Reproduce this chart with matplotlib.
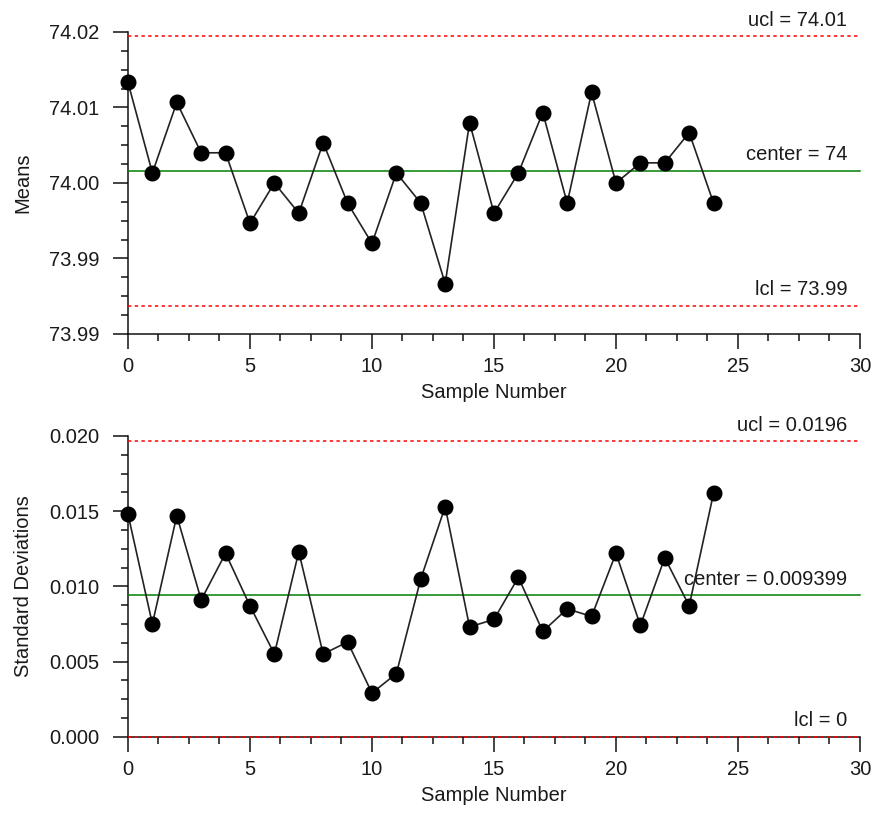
import numpy as np
import matplotlib
matplotlib.use("Agg")
import matplotlib.pyplot as plt
from matplotlib.ticker import AutoMinorLocator, FixedLocator, FormatStrFormatter

plt.rcParams['font.family'] = ['Liberation Sans', 'DejaVu Sans']

# sample means (x-bar chart)
means = [74.010, 74.001, 74.008, 74.003, 74.003, 73.996, 74.000, 73.997, 74.004, 73.998,
         73.994, 74.001, 73.998, 73.990, 74.006, 73.997, 74.001, 74.007, 73.998, 74.009,
         74.000, 74.002, 74.002, 74.005, 73.998]
# sample standard deviations (s chart)
sdevs = [0.0148, 0.0075, 0.0147, 0.0091, 0.0122, 0.0087, 0.0055, 0.0123, 0.0055, 0.0063,
         0.0029, 0.0042, 0.0105, 0.0153, 0.0073, 0.0078, 0.0106, 0.0070, 0.0085, 0.0080,
         0.0122, 0.0074, 0.0119, 0.0087, 0.0162]
samples = np.arange(len(means))

# control limits: ucl, center, lcl
mean_limits = [74.0146, 74.0012, 73.9878]
mean_limit_labels = ['ucl = 74.01', 'center = 74', 'lcl = 73.99']
sdev_limits = [0.01964, 0.009399, 0.0]
sdev_limit_labels = ['ucl = 0.0196', 'center = 0.009399', 'lcl = 0']

mean_ticks = [73.985, 73.9925, 74.000, 74.0075, 74.015]
mean_tick_labels = ['73.99', '73.99', '74.00', '74.01', '74.02']
sdev_ticks = [0.0, 0.005, 0.010, 0.015, 0.020]

txt = '#1a1a1a'
fs = 14.5


def style_axes(ax, ylabel):
    ax.spines['top'].set_visible(False)
    ax.spines['right'].set_visible(False)
    for s in ['left', 'bottom']:
        ax.spines[s].set_linewidth(1.1)
        ax.spines[s].set_color('#111111')
    ax.set_xlim(0, 30)
    ax.set_xticks(range(0, 31, 5))
    ax.xaxis.set_minor_locator(AutoMinorLocator(4))
    ax.yaxis.set_minor_locator(AutoMinorLocator(4))
    ax.tick_params(axis='both', which='major', direction='out', length=10.5, width=1.1,
                   labelsize=fs, labelcolor=txt, color='#111111')
    ax.tick_params(axis='both', which='minor', direction='out', length=5, width=1.1,
                   color='#111111')
    ax.tick_params(axis='x', which='major', pad=6)
    ax.tick_params(axis='y', which='major', pad=10)
    ax.set_xlabel('Sample Number', fontsize=fs, color=txt, labelpad=5)
    ax.set_ylabel(ylabel, fontsize=fs, color=txt, labelpad=12)


def limit_lines(ax, limits, labels):
    styles = [dict(color='red', linestyle=(0, (2.2, 2.2)), lw=1.1),
              dict(color='green', linestyle='-', lw=1.1),
              dict(color='red', linestyle=(0, (2.2, 2.2)), lw=1.1)]
    for val, lab, st in zip(limits, labels, styles):
        ax.plot([0, 30], [val, val], clip_on=False, zorder=4, **st)
        ax.annotate(lab, xy=(30, val), xytext=(-9, 7.5), textcoords='offset points',
                    ha='right', va='baseline', fontsize=fs, color=txt,
                    annotation_clip=False, zorder=6)


fig = plt.figure(figsize=(8.76, 8.18), dpi=100)
ax1 = fig.add_axes([0.1461, 0.5917, 0.8356, 0.3692])
ax2 = fig.add_axes([0.1461, 0.0994, 0.8356, 0.3676])

# x-bar chart
ax1.set_ylim(73.985, 74.015)
ax1.yaxis.set_major_locator(FixedLocator(mean_ticks))
ax1.set_yticklabels(mean_tick_labels)
limit_lines(ax1, mean_limits, mean_limit_labels)
ax1.plot(samples, means, color='#222222', lw=1.2, marker='o', ms=10.5,
         mfc='black', mec='black', clip_on=False, zorder=5)
style_axes(ax1, 'Means')

# s chart
ax2.set_ylim(0, 0.020)
ax2.yaxis.set_major_locator(FixedLocator(sdev_ticks))
ax2.yaxis.set_major_formatter(FormatStrFormatter('%.3f'))
limit_lines(ax2, sdev_limits, sdev_limit_labels)
ax2.plot(samples, sdevs, color='#222222', lw=1.2, marker='o', ms=10.5,
         mfc='black', mec='black', clip_on=False, zorder=5)
style_axes(ax2, 'Standard Deviations')

fig.savefig('out.png', dpi=100)
